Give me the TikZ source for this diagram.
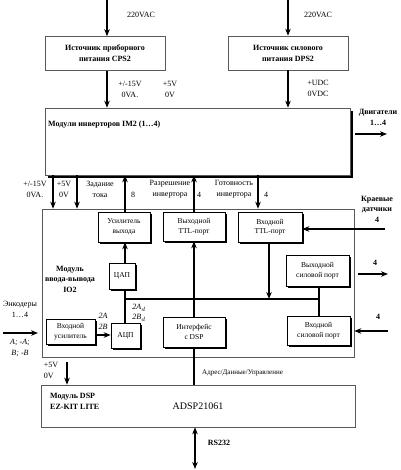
\documentclass[tikz,border=0pt]{standalone}
\usepackage{fontspec}
\setmainfont{Liberation Serif}
\usetikzlibrary{arrows.meta,shadows}
\begin{document}
\begin{tikzpicture}[x=1pt,y=-1pt,
  lbl/.style={font=\fontsize{8}{11}\selectfont, align=center, inner sep=0pt},
  lbll/.style={font=\fontsize{8}{11}\selectfont, align=left, inner sep=0pt},
  blbl/.style={font=\bfseries\fontsize{8}{10.5}\selectfont, align=center, inner sep=0pt},
  plainbox/.style={draw=black!65, line width=0.6pt, fill=white, inner sep=1pt, align=center},
  sbox/.style={draw=black, line width=0.6pt, fill=white, inner sep=1pt, align=center,
     font=\fontsize{7.5}{9.5}\selectfont,
     drop shadow={shadow xshift=1.6pt, shadow yshift=-1.6pt, fill=black, opacity=1}},
  ar/.style={line width=1.6pt, -{Stealth[length=7pt,width=5.5pt]}},
  dar/.style={line width=1.6pt, {Stealth[length=7pt,width=5.5pt]}-{Stealth[length=7pt,width=5.5pt]}},
  thick line/.style={line width=1.6pt}
]
\useasboundingbox[fill=white] (0,0) rectangle (400,470);

% power supplies
\node[plainbox, minimum width=120pt, minimum height=34pt, font=\bfseries\fontsize{8}{11}\selectfont] (cps) at (105,53.5) {Источник приборного\\питания CPS2};
\node[plainbox, minimum width=120pt, minimum height=34pt, font=\bfseries\fontsize{8}{11}\selectfont] (dps) at (288,53) {Источник силового\\питания DPS2};

% inverter module
\node[draw=black!65, line width=0.6pt, fill=white, minimum width=305pt, minimum height=67pt,
      drop shadow={shadow xshift=3pt, shadow yshift=-3pt, fill=black, opacity=1}] (im2) at (197.5,141.5) {};
\node[blbl, anchor=west] (im2t) at (48,125) {Модули инверторов IM2 (1\ldots4)};

% IO module
\node[plainbox, minimum width=312pt, minimum height=148pt] (io2) at (198,283) {};
\node[blbl] (io2t) at (70,279) {Модуль\\ввода-вывода\\IO2};

\node[sbox, minimum width=52pt, minimum height=30pt] (usv) at (124,227) {Усилитель\\выхода};
\node[sbox, minimum width=62pt, minimum height=29pt] (ttlout) at (194,226.5) {Выходной\\TTL-порт};
\node[sbox, minimum width=64pt, minimum height=30pt] (ttlin) at (270,227) {Входной\\TTL-порт};
\node[sbox, minimum width=26pt, minimum height=26pt] (dac) at (122,276) {ЦАП};
\node[sbox, minimum width=29pt, minimum height=25pt] (adc) at (125.5,335.5) {АЦП};
\node[sbox, minimum width=49pt, minimum height=25pt] (inamp) at (70.5,331.5) {Входной\\усилитель};
\node[sbox, minimum width=62pt, minimum height=30pt] (dspif) at (194,332) {Интерфейс\\с DSP};
\node[sbox, minimum width=63pt, minimum height=31pt] (outpwr) at (317.5,270.5) {Выходной\\силовой порт};
\node[sbox, minimum width=63pt, minimum height=29pt] (inpwr) at (318.5,330.5) {Входной\\силовой порт};

% DSP module
\node[plainbox, minimum width=314pt, minimum height=42pt] (dsp) at (198,406) {};
\node[blbl, align=left, anchor=west] (dspt) at (50,401.5) {Модуль DSP\\EZ-KIT LITE};
\node[font=\fontsize{10}{12}\selectfont, inner sep=0pt] (adsp) at (198,406) {ADSP21061};

% coordinates
\coordinate (t1) at (107,0);
\coordinate (t2) at (288,0);
\coordinate (xa) at (53,0);
\coordinate (xb) at (77,0);
\coordinate (xc) at (125,0);
\coordinate (xe) at (258,0);
\coordinate (xf) at (269,0);
\coordinate (busL) at (125,299);
\coordinate (busR) at (319,299);
\coordinate (m1) at (355,134);
\coordinate (m2) at (387,134);
\coordinate (k1) at (385,229);
\coordinate (p1) at (358,274);
\coordinate (p2) at (388,274);
\coordinate (q1) at (388,331);
\coordinate (e1) at (3,333);
\coordinate (e2) at (38,333);
\coordinate (ya) at (0,335);
\coordinate (f1) at (67,362);
\coordinate (r1) at (195,469);

% top arrows
\draw[ar] (t1) -- (t1 |- cps.north);
\draw[ar] (t2) -- (t2 |- dps.north);
\draw[ar] (cps.south -| t1) -- (im2.north -| t1);
\draw[ar] (dps.south -| t2) -- (im2.north -| t2);
\node[lbl] (v220a) at (141,15) {220VAC};
\node[lbl] (v220b) at (318,15) {220VAC};
\node[lbl] (v15a) at (130,89) {+/-15V\\0VA.};
\node[lbl] (v5a) at (170,89) {+5V\\0V};
\node[lbl] (udc) at (318,88) {+UDC\\0VDC};

% motors
\draw[ar] (m1) -- (m2);
\node[blbl] (mot) at (378,117.5) {Двигатели\\1\ldots4};

% between IM2 and IO2
\draw[ar] (im2.south -| xa) -- (io2.north -| xa);
\draw[ar] (im2.south -| xb) -- (io2.north -| xb);
\draw[ar] (usv.north -| xc) -- (im2.south -| xc);
\draw[ar] (ttlout.north) -- (im2.south -| ttlout.north);
\draw[ar] (im2.south -| xe) -- (io2.north -| xe);
\node[lbl] (v15b) at (35,189) {+/-15V\\0VA.};
\node[lbl] (v5b) at (64,189) {+5V\\0V};
\node[lbl] (zad) at (100,189) {Задание\\тока};
\node[lbl] (n8) at (133,195) {8};
\node[lbl] (razr) at (170,189) {Разрешение\\инвертора};
\node[lbl] (n4a) at (199,195) {4};
\node[lbl] (got) at (234,189) {Готовность\\инвертора};
\node[lbl] (n4b) at (266,195) {4};

% inside IO2
\draw[ar] (dac.north -| xc) -- (usv.south -| xc);
\draw[thick line] (dac.south -| xc) -- (adc.north -| xc);
\draw[thick line] (busL) -- (busR);
\draw[thick line] (outpwr.south -| busR) -- (inpwr.north -| busR);
\draw[ar] (ttlin.south -| xf) -- (busL -| xf);
\draw[ar] (dspif.north) -- (ttlout.south);
\draw[ar] (inamp.east |- ya) -- (adc.west |- ya);
\node[font=\itshape\fontsize{8}{11}\selectfont, align=center, inner sep=0pt] (ab) at (103,321.5) {2\textit{A}\\2\textit{B}};
\node[font=\itshape\fontsize{8}{10}\selectfont, align=center, inner sep=0pt] (abd) at (139,313) {2\textit{A}$_{d}$\\2\textit{B}$_{d}$};

% right side
\draw[ar] (k1) -- (ttlin.east |- k1);
\node[blbl] (kraev) at (377,209) {Краевые\\датчики\\4};
\draw[ar] (p1) -- (p2);
\node[blbl] (n4c) at (375,263) {4};
\draw[ar] (q1) -- (io2.east |- q1);
\node[blbl] (n4d) at (378,317) {4};

% encoders
\draw[ar] (e1) -- (e2);
\node[lbl] (enc) at (20,309.5) {Энкодеры\\1\ldots4};
\node[font=\itshape\fontsize{8}{11}\selectfont, align=center, inner sep=0pt] (abs) at (20,348) {A; -A;\\B; -B};

% bottom
\draw[thick line] (dspif.south) -- (dsp.north -| dspif.south);
\draw[ar] (f1) -- (dsp.north -| f1);
\node[lbll] (v5c) at (51,370.5) {+5V\\0V};
\node[font=\fontsize{7}{8}\selectfont, inner sep=0pt, anchor=west] (adr) at (202,373) {Адрес/Данные/Управление};
\draw[dar] (dsp.south -| r1) -- (r1);
\node[blbl] (rs) at (219,443) {RS232};
\end{tikzpicture}
\end{document}
